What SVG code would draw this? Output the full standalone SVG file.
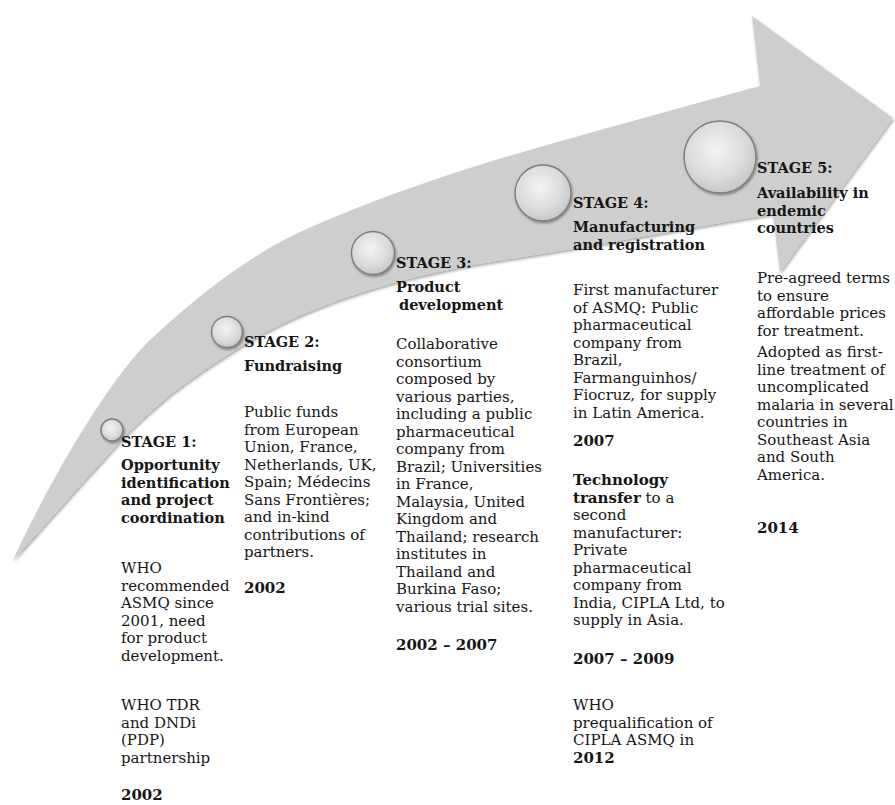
<svg xmlns="http://www.w3.org/2000/svg" width="895" height="805" viewBox="0 0 895 805">
<defs>
<filter id="sh" x="-10%" y="-10%" width="130%" height="130%">
<feDropShadow dx="1" dy="2" stdDeviation="1.6" flood-color="#000" flood-opacity="0.35"/>
</filter>
<filter id="csh" x="-30%" y="-30%" width="170%" height="170%">
<feDropShadow dx="1" dy="1.5" stdDeviation="1.2" flood-color="#000" flood-opacity="0.4"/>
</filter>
<radialGradient id="cg" cx="45%" cy="40%" r="65%">
<stop offset="0" stop-color="#f3f3f3"/>
<stop offset="0.6" stop-color="#dcdcdc"/>
<stop offset="1" stop-color="#c2c2c2"/>
</radialGradient>
</defs>
<style>
.t { font-family: "DejaVu Serif", "Liberation Serif", serif; font-size: 15px; fill: #161616; }
.b { font-weight: bold; font-size: 14.5px; }
.n { font-weight: bold; font-size: 15px; }
.c { fill: url(#cg); stroke: #7e7e7e; stroke-width: 1.4; filter: url(#csh); }
</style>
<rect width="895" height="805" fill="#ffffff"/>
<g id="arrow">
<path d="M13,560 C50,480 110,378 150,340 C195,298 245,258 300,232 C380,196 460,170 540,147 C613,126 687,106 760,86 L752,16 L893,118 L780,272 L773,214 C735,220 650,235 590,246 C525,257 458,265 393,283 C343,297 290,316 240,347 C198,373 157,401 115,447 C85,480 30,542 13,560 Z" fill="#cecece" filter="url(#sh)"/>
</g>
<g id="stage1">
<circle class="c" cx="112" cy="430" r="11"/>
<text class="t"><tspan class="b" x="121" y="447">STAGE 1:</tspan><tspan class="b" x="121" y="470">Opportunity</tspan><tspan class="b" x="121" y="487.5">identification</tspan><tspan class="b" x="121" y="505">and project</tspan><tspan class="b" x="121" y="522.5">coordination</tspan><tspan x="121" y="573">WHO</tspan><tspan x="121" y="590.5">recommended</tspan><tspan x="121" y="608">ASMQ since</tspan><tspan x="121" y="625.5">2001, need</tspan><tspan x="121" y="643">for product</tspan><tspan x="121" y="660.5">development.</tspan><tspan x="121" y="710">WHO TDR</tspan><tspan x="121" y="727.5">and DNDi</tspan><tspan x="121" y="745">(PDP)</tspan><tspan x="121" y="762.5">partnership</tspan><tspan class="n" x="121" y="800">2002</tspan></text>
</g>
<g id="stage2">
<circle class="c" cx="227" cy="332" r="15.5"/>
<text class="t"><tspan class="b" x="244" y="347">STAGE 2:</tspan><tspan class="b" x="244" y="371">Fundraising</tspan><tspan x="244" y="417">Public funds</tspan><tspan x="244" y="434.5">from European</tspan><tspan x="244" y="452">Union, France,</tspan><tspan x="244" y="469.5">Netherlands, UK,</tspan><tspan x="244" y="487">Spain; Médecins</tspan><tspan x="244" y="504.5">Sans Frontières;</tspan><tspan x="244" y="522">and in-kind</tspan><tspan x="244" y="539.5">contributions of</tspan><tspan x="244" y="557">partners.</tspan><tspan class="n" x="244" y="593">2002</tspan></text>
</g>
<g id="stage3">
<circle class="c" cx="373" cy="253" r="21.5"/>
<text class="t"><tspan class="b" x="396" y="268">STAGE 3:</tspan><tspan class="b" x="396" y="292">Product</tspan><tspan class="b" x="399" y="309.5">development</tspan><tspan x="396" y="349">Collaborative</tspan><tspan x="396" y="366.5">consortium</tspan><tspan x="396" y="384">composed by</tspan><tspan x="396" y="401.5">various parties,</tspan><tspan x="396" y="419">including a public</tspan><tspan x="396" y="436.5">pharmaceutical</tspan><tspan x="396" y="454">company from</tspan><tspan x="396" y="471.5">Brazil; Universities</tspan><tspan x="396" y="489">in France,</tspan><tspan x="396" y="506.5">Malaysia, United</tspan><tspan x="396" y="524">Kingdom and</tspan><tspan x="396" y="541.5">Thailand; research</tspan><tspan x="396" y="559">institutes in</tspan><tspan x="396" y="576.5">Thailand and</tspan><tspan x="396" y="594">Burkina Faso;</tspan><tspan x="396" y="611.5">various trial sites.</tspan><tspan class="n" x="396" y="650">2002 – 2007</tspan></text>
</g>
<g id="stage4">
<circle class="c" cx="543" cy="193" r="28"/>
<text class="t"><tspan class="b" x="573" y="208">STAGE 4:</tspan><tspan class="b" x="573" y="232">Manufacturing</tspan><tspan class="b" x="573" y="249.5">and registration</tspan><tspan x="573" y="295">First manufacturer</tspan><tspan x="573" y="312.5">of ASMQ: Public</tspan><tspan x="573" y="330">pharmaceutical</tspan><tspan x="573" y="347.5">company from</tspan><tspan x="573" y="365">Brazil,</tspan><tspan x="573" y="382.5">Farmanguinhos/</tspan><tspan x="573" y="400">Fiocruz, for supply</tspan><tspan x="573" y="417.5">in Latin America.</tspan><tspan class="n" x="573" y="446">2007</tspan><tspan class="n" x="573" y="485">Technology</tspan><tspan class="n" x="573" y="502.5">transfer</tspan><tspan> to a</tspan><tspan x="573" y="520">second</tspan><tspan x="573" y="537.5">manufacturer:</tspan><tspan x="573" y="555">Private</tspan><tspan x="573" y="572.5">pharmaceutical</tspan><tspan x="573" y="590">company from</tspan><tspan x="573" y="607.5">India, CIPLA Ltd, to</tspan><tspan x="573" y="625">supply in Asia.</tspan><tspan class="n" x="573" y="664">2007 – 2009</tspan><tspan x="573" y="710">WHO</tspan><tspan x="573" y="727.5">prequalification of</tspan><tspan x="573" y="745">CIPLA ASMQ in</tspan><tspan class="n" x="573" y="762.5">2012</tspan></text>
</g>
<g id="stage5">
<circle class="c" cx="720" cy="157" r="36"/>
<text class="t"><tspan class="b" x="757" y="173">STAGE 5:</tspan><tspan class="b" x="757" y="198">Availability in</tspan><tspan class="b" x="757" y="215.5">endemic</tspan><tspan class="b" x="757" y="233">countries</tspan><tspan x="757" y="283">Pre-agreed terms</tspan><tspan x="757" y="300.5">to ensure</tspan><tspan x="757" y="318">affordable prices</tspan><tspan x="757" y="335.5">for treatment.</tspan><tspan x="757" y="357">Adopted as first-</tspan><tspan x="757" y="374.5">line treatment of</tspan><tspan x="757" y="392">uncomplicated</tspan><tspan x="757" y="409.5">malaria in several</tspan><tspan x="757" y="427">countries in</tspan><tspan x="757" y="444.5">Southeast Asia</tspan><tspan x="757" y="462">and South</tspan><tspan x="757" y="479.5">America.</tspan><tspan class="n" x="757" y="533">2014</tspan></text>
</g>
</svg>
